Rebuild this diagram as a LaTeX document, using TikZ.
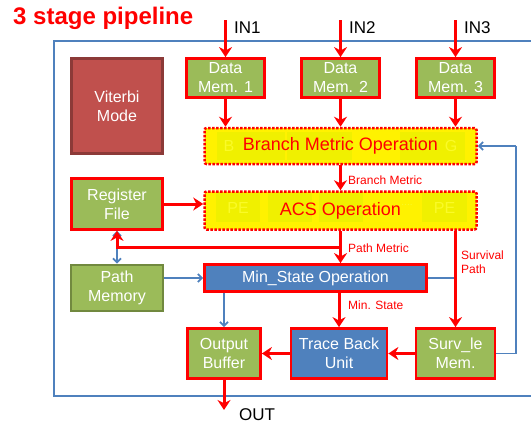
\documentclass[tikz,border=0pt]{standalone}
\usepackage{fontspec}
\setmainfont{Liberation Sans}
\usetikzlibrary{arrows.meta}
\definecolor{mgreen}{RGB}{155,187,89}
\definecolor{mgreendark}{RGB}{113,137,63}
\definecolor{mblue}{RGB}{79,129,189}
\definecolor{mredbox}{RGB}{192,80,77}
\definecolor{mredboxdark}{RGB}{140,58,56}
\definecolor{faintbox}{RGB}{240,240,0}
\definecolor{fainttext}{RGB}{250,250,40}
\begin{document}
\begin{tikzpicture}[x=1pt,y=-1pt,
  box/.style={draw=red, line width=2.7pt, text=white, align=center,
    font=\fontsize{16}{19}\selectfont, inner sep=0pt},
  greenbox/.style={box, fill=mgreen},
  bluebox/.style={box, fill=mblue},
  dotbox/.style={draw=red, fill=yellow, line width=2.5pt,
    dash pattern=on 2.5pt off 1.5pt, rounded corners=2pt, inner sep=0pt},
  bigtext/.style={text=red, font=\fontsize{18}{21}\selectfont, inner sep=0pt},
  fbox/.style={fill=faintbox, draw=none, inner sep=0pt},
  ftext/.style={text=fainttext, inner sep=0pt, font=\fontsize{16}{19}\selectfont},
  redarrow/.style={draw=red, line width=3pt, -{Stealth[length=10pt,width=13pt]}},
  bluearrow/.style={draw=mblue, line width=1.8pt, -{Straight Barb[length=4pt,width=8pt]}},
  blueline/.style={draw=mblue, line width=1.8pt},
  smalllabel/.style={text=red, font=\fontsize{12}{14}\selectfont, anchor=west,
    inner sep=0pt, align=left},
  iolabel/.style={text=black, font=\fontsize{17}{20}\selectfont, anchor=west, inner sep=0pt}
]
\useasboundingbox (0,0) rectangle (531,423);

% title
\node[anchor=west, inner sep=0pt, text=red, font=\fontsize{24}{28}\selectfont\bfseries] (title) at (13,18) {3 stage pipeline};

% outer frame
\draw[blueline, line width=2pt] (531,41) -- (54,41) -- (54,396) -- (531,396);

% boxes
\node[box, fill=mredbox, draw=mredboxdark, minimum width=91, minimum height=95] (vit) at (117,106) {Viterbi\\Mode};
\node[greenbox, minimum width=78, minimum height=39] (dm1) at (225.5,78) {Data\\Mem. 1};
\node[greenbox, minimum width=78, minimum height=39] (dm2) at (340.5,78) {Data\\Mem. 2};
\node[greenbox, minimum width=78, minimum height=39] (dm3) at (455.5,78) {Data\\Mem. 3};

\node[dotbox, minimum width=272, minimum height=36] (bm) at (340.5,146) {};
\node[fbox, minimum width=68, minimum height=28] (bmf1) at (251,146) {};
\node[fbox, minimum width=65, minimum height=28] (bmf2) at (319.5,146) {};
\node[fbox, minimum width=65, minimum height=28] (bmf3) at (432.5,146) {};
\node[ftext] (bmb) at (229,146) {B};
\node[ftext] (bmg) at (451,146) {G};
\node[bigtext] (bmt) at (340.5,146) {Branch Metric Operation};

\node[dotbox, minimum width=272, minimum height=38] (acs) at (340.5,210.5) {};
\node[fbox, minimum width=44, minimum height=29] (acf1) at (238,207.5) {};
\node[fbox, minimum width=44, minimum height=29] (acf2) at (290,207.5) {};
\node[fbox, minimum width=44, minimum height=29] (acf3) at (341,207.5) {};
\node[fbox, minimum width=45, minimum height=29] (acf4) at (444.5,207.5) {};
\node[ftext] (acpe1) at (238,207.5) {PE};
\node[ftext] (acpe2) at (444.5,207.5) {PE};
\node[text=fainttext, inner sep=0pt, font=\fontsize{10}{12}\selectfont] (acdots) at (407,205) {....};
\node[bigtext] (acst) at (340.5,210.5) {ACS Operation};

\node[greenbox, minimum width=91, minimum height=51] (rf) at (117,204) {Register\\File};
\node[box, fill=mgreen, draw=mgreendark, minimum width=92, minimum height=46] (pmem) at (117,288) {Path\\Memory};
\node[bluebox, minimum width=222, minimum height=27] (ms) at (315.5,278) {Min\_State Operation};
\node[greenbox, minimum width=73, minimum height=50] (ob) at (224,353.5) {Output\\Buffer};
\node[bluebox, minimum width=96, minimum height=50] (tb) at (339,353.5) {Trace Back\\Unit};
\node[greenbox, minimum width=79, minimum height=50] (sm) at (455.5,353.5) {Surv\_le\\Mem.};

% inputs
\coordinate (in1) at (225.5,20);
\coordinate (in2) at (340.5,20);
\coordinate (in3) at (455.5,20);
\draw[redarrow] (in1) -- (dm1.north);
\draw[redarrow] (in2) -- (dm2.north);
\draw[redarrow] (in3) -- (dm3.north);
\node[iolabel] (lin1) at (234,28) {IN1};
\node[iolabel] (lin2) at (349,28) {IN2};
\node[iolabel] (lin3) at (464,28) {IN3};

\draw[redarrow] (dm1.south) -- (dm1.south |- bm.north);
\draw[redarrow] (dm2.south) -- (dm2.south |- bm.north);
\draw[redarrow] (dm3.south) -- (dm3.south |- bm.north);

% BM -> ACS
\draw[redarrow] (bm.south) -- (acs.north);
\node[smalllabel] (lbm) at (348,180) {Branch Metric};

% RF -> ACS
\draw[redarrow] (rf.east) -- (rf.east -| acs.west);

% blue RF <-> path memory
\draw[bluearrow, {Straight Barb[length=4pt,width=8pt]}-{Straight Barb[length=4pt,width=8pt]}] (rf.south) -- (pmem.north);

% path metric
\coordinate (pmj) at (340.5,247);
\draw[redarrow] (acs.south) -- (acs.south |- ms.north);
\draw[redarrow] (pmj) -| (rf.south);
\node[smalllabel] (lpm) at (348,248) {Path Metric};

% path memory -> min state
\draw[bluearrow] (pmem.east |- ms.west) -- (ms.west);

% survival path
\coordinate (spt) at (455.5,231);
\draw[blueline] (ms.east) -- (ms.east -| spt);
\draw[redarrow] (spt) -- (sm.north);
\node[smalllabel] (lsp) at (461,262) {Survival\\Path};

% min state -> trace back
\draw[redarrow] (ms.south -| tb.north) -- (tb.north);
\node[smalllabel] (lms) at (348,305) {Min. State};

% min state -> output buffer
\draw[bluearrow] (ms.south -| ob.north) -- (ob.north);

% trace back chain
\draw[redarrow] (sm.west) -- (tb.east);
\draw[redarrow] (tb.west) -- (ob.east);

% feedback
\coordinate (fbk) at (516,146);
\draw[blueline] (sm.east) -| (fbk);
\draw[bluearrow] (fbk) -- (bm.east);

% output
\coordinate (outc) at (224,410);
\draw[redarrow] (ob.south) -- (outc);
\node[iolabel] (lout) at (239,414.5) {OUT};
\end{tikzpicture}
\end{document}
